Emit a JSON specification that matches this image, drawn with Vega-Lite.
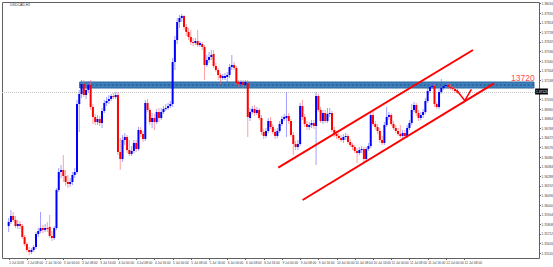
{
"$schema":"https://vega.github.io/schema/vega-lite/v6.json",
"width":537,"height":256,
"autosize":{"type":"none"},
"padding":{"left":2,"top":2,"right":14,"bottom":9},
"background":"#ffffff",
"config":{"view":{"stroke":"#606060","strokeWidth":1},"axis":{"labelFont":"Liberation Sans","labelFontSize":3.2,"labelColor":"#404040","tickColor":"#606060","tickSize":1.5,"domain":false,"grid":false}},
"resolve":{"axis":{"x":"independent","y":"independent"}},
"datasets":{
"candles":[
{"i":0,"o":1.3579,"h":1.3587,"l":1.3573,"c":1.3583},
{"i":1,"o":1.3583,"h":1.3595,"l":1.3581,"c":1.3589},
{"i":2,"o":1.3589,"h":1.3593,"l":1.3583,"c":1.3585},
{"i":3,"o":1.3585,"h":1.3589,"l":1.3577,"c":1.3579},
{"i":4,"o":1.3579,"h":1.3585,"l":1.3576,"c":1.3581},
{"i":5,"o":1.3581,"h":1.3584,"l":1.3576,"c":1.3579},
{"i":6,"o":1.3579,"h":1.3581,"l":1.3566,"c":1.3568},
{"i":7,"o":1.3568,"h":1.357,"l":1.3559,"c":1.3561},
{"i":8,"o":1.3561,"h":1.3563,"l":1.3553,"c":1.3555},
{"i":9,"o":1.3555,"h":1.3558,"l":1.355,"c":1.3553},
{"i":10,"o":1.3553,"h":1.3557,"l":1.3551,"c":1.3555},
{"i":11,"o":1.3555,"h":1.356,"l":1.3553,"c":1.3558},
{"i":12,"o":1.3558,"h":1.3573,"l":1.3556,"c":1.3571},
{"i":13,"o":1.3571,"h":1.3577,"l":1.3568,"c":1.3574},
{"i":14,"o":1.3574,"h":1.3593,"l":1.3572,"c":1.3577},
{"i":15,"o":1.3577,"h":1.358,"l":1.3572,"c":1.3575},
{"i":16,"o":1.3575,"h":1.3581,"l":1.3573,"c":1.3577},
{"i":17,"o":1.3577,"h":1.3583,"l":1.3573,"c":1.3576},
{"i":18,"o":1.3578,"h":1.359,"l":1.3567,"c":1.3569},
{"i":19,"o":1.3569,"h":1.3574,"l":1.3564,"c":1.3567},
{"i":20,"o":1.3567,"h":1.3579,"l":1.3565,"c":1.3577},
{"i":21,"o":1.3577,"h":1.3617,"l":1.3575,"c":1.3615},
{"i":22,"o":1.3615,"h":1.3637,"l":1.3613,"c":1.3633},
{"i":23,"o":1.3633,"h":1.364,"l":1.3627,"c":1.3635},
{"i":24,"o":1.3635,"h":1.365,"l":1.3623,"c":1.3629},
{"i":25,"o":1.3629,"h":1.3635,"l":1.3619,"c":1.3623},
{"i":26,"o":1.3623,"h":1.363,"l":1.3617,"c":1.3621},
{"i":27,"o":1.3621,"h":1.3627,"l":1.3618,"c":1.3623},
{"i":28,"o":1.3623,"h":1.3633,"l":1.362,"c":1.363},
{"i":29,"o":1.363,"h":1.3637,"l":1.3627,"c":1.3633},
{"i":30,"o":1.3633,"h":1.3705,"l":1.3631,"c":1.3701},
{"i":31,"o":1.3701,"h":1.3715,"l":1.3673,"c":1.3711},
{"i":32,"o":1.3711,"h":1.3725,"l":1.3707,"c":1.3721},
{"i":33,"o":1.3721,"h":1.3725,"l":1.3708,"c":1.371},
{"i":34,"o":1.371,"h":1.3719,"l":1.3706,"c":1.3715},
{"i":35,"o":1.3715,"h":1.3724,"l":1.3712,"c":1.372},
{"i":36,"o":1.372,"h":1.3725,"l":1.3695,"c":1.3698},
{"i":37,"o":1.3698,"h":1.3701,"l":1.3681,"c":1.3688},
{"i":38,"o":1.3688,"h":1.3691,"l":1.368,"c":1.3683},
{"i":39,"o":1.3683,"h":1.369,"l":1.368,"c":1.3686},
{"i":40,"o":1.3686,"h":1.3689,"l":1.3679,"c":1.3682},
{"i":41,"o":1.3682,"h":1.3697,"l":1.3677,"c":1.3694},
{"i":42,"o":1.3694,"h":1.3705,"l":1.3692,"c":1.3702},
{"i":43,"o":1.3702,"h":1.3708,"l":1.3699,"c":1.3704},
{"i":44,"o":1.3704,"h":1.371,"l":1.3701,"c":1.3706},
{"i":45,"o":1.3706,"h":1.3711,"l":1.3704,"c":1.3709},
{"i":46,"o":1.3709,"h":1.3712,"l":1.3706,"c":1.3708},
{"i":47,"o":1.3708,"h":1.3713,"l":1.3706,"c":1.371},
{"i":48,"o":1.371,"h":1.3713,"l":1.365,"c":1.3653},
{"i":49,"o":1.3653,"h":1.3667,"l":1.3635,"c":1.3646},
{"i":50,"o":1.3646,"h":1.367,"l":1.3643,"c":1.3665},
{"i":51,"o":1.3665,"h":1.3672,"l":1.366,"c":1.3668},
{"i":52,"o":1.3668,"h":1.367,"l":1.3652,"c":1.3655},
{"i":53,"o":1.3655,"h":1.3665,"l":1.3649,"c":1.3651},
{"i":54,"o":1.3651,"h":1.3659,"l":1.3649,"c":1.3654},
{"i":55,"o":1.3654,"h":1.3665,"l":1.3652,"c":1.3662},
{"i":56,"o":1.3662,"h":1.3665,"l":1.3653,"c":1.3656},
{"i":57,"o":1.3656,"h":1.3678,"l":1.3654,"c":1.3675},
{"i":58,"o":1.3675,"h":1.3678,"l":1.3668,"c":1.3671},
{"i":59,"o":1.3671,"h":1.3674,"l":1.3663,"c":1.3666},
{"i":60,"o":1.3666,"h":1.3705,"l":1.3664,"c":1.3702},
{"i":61,"o":1.3702,"h":1.3706,"l":1.3693,"c":1.3695},
{"i":62,"o":1.3695,"h":1.3697,"l":1.368,"c":1.3683},
{"i":63,"o":1.3683,"h":1.3692,"l":1.3677,"c":1.3687},
{"i":64,"o":1.3687,"h":1.3691,"l":1.3675,"c":1.3683},
{"i":65,"o":1.3683,"h":1.3696,"l":1.3681,"c":1.3693},
{"i":66,"o":1.3693,"h":1.3697,"l":1.3683,"c":1.3687},
{"i":67,"o":1.3687,"h":1.3697,"l":1.3685,"c":1.3693},
{"i":68,"o":1.3693,"h":1.3699,"l":1.3691,"c":1.3696},
{"i":69,"o":1.3696,"h":1.3701,"l":1.3694,"c":1.3697},
{"i":70,"o":1.3697,"h":1.3702,"l":1.3695,"c":1.3699},
{"i":71,"o":1.3699,"h":1.3704,"l":1.3697,"c":1.3701},
{"i":72,"o":1.3701,"h":1.3747,"l":1.3698,"c":1.3743},
{"i":73,"o":1.3743,"h":1.3769,"l":1.3735,"c":1.3765},
{"i":74,"o":1.3765,"h":1.3787,"l":1.3761,"c":1.3783},
{"i":75,"o":1.3783,"h":1.379,"l":1.3777,"c":1.3787},
{"i":76,"o":1.3787,"h":1.3791,"l":1.3783,"c":1.3789},
{"i":77,"o":1.3789,"h":1.379,"l":1.3775,"c":1.3778},
{"i":78,"o":1.3778,"h":1.3781,"l":1.3769,"c":1.3773},
{"i":79,"o":1.3773,"h":1.3777,"l":1.3765,"c":1.3768},
{"i":80,"o":1.3768,"h":1.3775,"l":1.376,"c":1.3763},
{"i":81,"o":1.3763,"h":1.3767,"l":1.3759,"c":1.3762},
{"i":82,"o":1.3762,"h":1.3767,"l":1.376,"c":1.3764},
{"i":83,"o":1.3764,"h":1.3775,"l":1.3758,"c":1.376},
{"i":84,"o":1.376,"h":1.3764,"l":1.3758,"c":1.3762},
{"i":85,"o":1.3761,"h":1.3763,"l":1.3755,"c":1.3758},
{"i":86,"o":1.3758,"h":1.376,"l":1.3725,"c":1.374},
{"i":87,"o":1.374,"h":1.375,"l":1.3738,"c":1.3745},
{"i":88,"o":1.3745,"h":1.3753,"l":1.3742,"c":1.3748},
{"i":89,"o":1.3748,"h":1.3755,"l":1.3745,"c":1.375},
{"i":90,"o":1.3751,"h":1.3755,"l":1.3737,"c":1.3739},
{"i":91,"o":1.3739,"h":1.3742,"l":1.3733,"c":1.3735},
{"i":92,"o":1.3735,"h":1.3737,"l":1.3725,"c":1.373},
{"i":93,"o":1.373,"h":1.3732,"l":1.372,"c":1.3727},
{"i":94,"o":1.3727,"h":1.3731,"l":1.3725,"c":1.3729},
{"i":95,"o":1.3727,"h":1.3732,"l":1.3725,"c":1.3729},
{"i":96,"o":1.3728,"h":1.3733,"l":1.3718,"c":1.373},
{"i":97,"o":1.373,"h":1.3741,"l":1.3727,"c":1.3738},
{"i":98,"o":1.3738,"h":1.375,"l":1.3735,"c":1.374},
{"i":99,"o":1.374,"h":1.3743,"l":1.3735,"c":1.3737},
{"i":100,"o":1.3737,"h":1.3739,"l":1.372,"c":1.3722},
{"i":101,"o":1.3723,"h":1.3725,"l":1.3718,"c":1.3721},
{"i":102,"o":1.3721,"h":1.3725,"l":1.3719,"c":1.3723},
{"i":103,"o":1.3723,"h":1.3725,"l":1.3717,"c":1.372},
{"i":104,"o":1.372,"h":1.3725,"l":1.3718,"c":1.3723},
{"i":105,"o":1.3722,"h":1.3725,"l":1.3668,"c":1.3688},
{"i":106,"o":1.3687,"h":1.3697,"l":1.3684,"c":1.3693},
{"i":107,"o":1.3693,"h":1.3699,"l":1.3691,"c":1.3696},
{"i":108,"o":1.3696,"h":1.37,"l":1.3689,"c":1.3692},
{"i":109,"o":1.3692,"h":1.3698,"l":1.369,"c":1.3695},
{"i":110,"o":1.3695,"h":1.3697,"l":1.3685,"c":1.3687},
{"i":111,"o":1.3687,"h":1.369,"l":1.367,"c":1.3673},
{"i":112,"o":1.3673,"h":1.3676,"l":1.3666,"c":1.3669},
{"i":113,"o":1.3669,"h":1.3677,"l":1.3667,"c":1.3674},
{"i":114,"o":1.3674,"h":1.3687,"l":1.3672,"c":1.3684},
{"i":115,"o":1.3684,"h":1.3688,"l":1.3676,"c":1.3678},
{"i":116,"o":1.3678,"h":1.3681,"l":1.3671,"c":1.3673},
{"i":117,"o":1.3673,"h":1.3676,"l":1.3666,"c":1.3669},
{"i":118,"o":1.3669,"h":1.3677,"l":1.3667,"c":1.3674},
{"i":119,"o":1.3674,"h":1.3684,"l":1.3672,"c":1.3681},
{"i":120,"o":1.3681,"h":1.3689,"l":1.3679,"c":1.3686},
{"i":121,"o":1.3686,"h":1.3691,"l":1.3684,"c":1.3688},
{"i":122,"o":1.3687,"h":1.3713,"l":1.3668,"c":1.3689},
{"i":123,"o":1.3689,"h":1.3692,"l":1.3681,"c":1.3684},
{"i":124,"o":1.3684,"h":1.3686,"l":1.3668,"c":1.367},
{"i":125,"o":1.367,"h":1.3673,"l":1.365,"c":1.3661},
{"i":126,"o":1.3661,"h":1.3664,"l":1.3655,"c":1.3658},
{"i":127,"o":1.3658,"h":1.3665,"l":1.3655,"c":1.3661},
{"i":128,"o":1.3661,"h":1.3702,"l":1.3659,"c":1.3699},
{"i":129,"o":1.3699,"h":1.3705,"l":1.3685,"c":1.3688},
{"i":130,"o":1.3688,"h":1.3691,"l":1.3678,"c":1.3681},
{"i":131,"o":1.3681,"h":1.3684,"l":1.3675,"c":1.3678},
{"i":132,"o":1.3678,"h":1.3683,"l":1.3675,"c":1.368},
{"i":133,"o":1.368,"h":1.3685,"l":1.3677,"c":1.3682},
{"i":134,"o":1.3682,"h":1.3685,"l":1.3676,"c":1.3679},
{"i":135,"o":1.3679,"h":1.3713,"l":1.364,"c":1.3709},
{"i":136,"o":1.3709,"h":1.3711,"l":1.3693,"c":1.3695},
{"i":137,"o":1.3695,"h":1.3698,"l":1.3682,"c":1.3684},
{"i":138,"o":1.3684,"h":1.3695,"l":1.3681,"c":1.3692},
{"i":139,"o":1.3692,"h":1.3695,"l":1.3682,"c":1.3684},
{"i":140,"o":1.3684,"h":1.3697,"l":1.3682,"c":1.3691},
{"i":141,"o":1.3691,"h":1.3697,"l":1.3688,"c":1.3692},
{"i":142,"o":1.3692,"h":1.3694,"l":1.3673,"c":1.3675},
{"i":143,"o":1.3675,"h":1.3678,"l":1.3668,"c":1.3671},
{"i":144,"o":1.3671,"h":1.3674,"l":1.3666,"c":1.3669},
{"i":145,"o":1.3669,"h":1.3672,"l":1.3665,"c":1.3667},
{"i":146,"o":1.3667,"h":1.367,"l":1.3663,"c":1.3665},
{"i":147,"o":1.3665,"h":1.3671,"l":1.3662,"c":1.3668},
{"i":148,"o":1.3668,"h":1.3672,"l":1.3665,"c":1.3669},
{"i":149,"o":1.3669,"h":1.3671,"l":1.3661,"c":1.3663},
{"i":150,"o":1.3663,"h":1.3666,"l":1.3658,"c":1.366},
{"i":151,"o":1.366,"h":1.3662,"l":1.3655,"c":1.3658},
{"i":152,"o":1.3658,"h":1.366,"l":1.3652,"c":1.3654},
{"i":153,"o":1.3654,"h":1.3657,"l":1.3642,"c":1.3652},
{"i":154,"o":1.3652,"h":1.3658,"l":1.365,"c":1.3655},
{"i":155,"o":1.3655,"h":1.3659,"l":1.3652,"c":1.3656},
{"i":156,"o":1.3656,"h":1.3658,"l":1.3643,"c":1.3646},
{"i":157,"o":1.3646,"h":1.3658,"l":1.3644,"c":1.3656},
{"i":158,"o":1.3656,"h":1.3662,"l":1.3654,"c":1.3659},
{"i":159,"o":1.3659,"h":1.3693,"l":1.3657,"c":1.369},
{"i":160,"o":1.369,"h":1.3694,"l":1.3679,"c":1.3681},
{"i":161,"o":1.3681,"h":1.3684,"l":1.3675,"c":1.3678},
{"i":162,"o":1.3678,"h":1.3681,"l":1.3671,"c":1.3674},
{"i":163,"o":1.3674,"h":1.3677,"l":1.3662,"c":1.3665},
{"i":164,"o":1.3665,"h":1.3669,"l":1.366,"c":1.3662},
{"i":165,"o":1.3662,"h":1.3683,"l":1.366,"c":1.368},
{"i":166,"o":1.368,"h":1.3698,"l":1.3678,"c":1.3688},
{"i":167,"o":1.3688,"h":1.3693,"l":1.3685,"c":1.369},
{"i":168,"o":1.369,"h":1.3692,"l":1.3679,"c":1.3681},
{"i":169,"o":1.3681,"h":1.3684,"l":1.3675,"c":1.3677},
{"i":170,"o":1.3677,"h":1.368,"l":1.3672,"c":1.3674},
{"i":171,"o":1.3674,"h":1.3677,"l":1.3669,"c":1.3671},
{"i":172,"o":1.3671,"h":1.368,"l":1.3667,"c":1.3669},
{"i":173,"o":1.3669,"h":1.3675,"l":1.3667,"c":1.3672},
{"i":174,"o":1.3672,"h":1.3675,"l":1.3667,"c":1.3669},
{"i":175,"o":1.3669,"h":1.368,"l":1.3667,"c":1.3677},
{"i":176,"o":1.3677,"h":1.3685,"l":1.3675,"c":1.3682},
{"i":177,"o":1.3682,"h":1.3701,"l":1.368,"c":1.3695},
{"i":178,"o":1.3695,"h":1.3703,"l":1.3693,"c":1.37},
{"i":179,"o":1.37,"h":1.3702,"l":1.3689,"c":1.3692},
{"i":180,"o":1.3692,"h":1.3695,"l":1.3684,"c":1.3687},
{"i":181,"o":1.3687,"h":1.3693,"l":1.3685,"c":1.369},
{"i":182,"o":1.369,"h":1.3696,"l":1.3687,"c":1.3693},
{"i":183,"o":1.3693,"h":1.3707,"l":1.3691,"c":1.3704},
{"i":184,"o":1.3704,"h":1.3717,"l":1.3702,"c":1.3714},
{"i":185,"o":1.3714,"h":1.3721,"l":1.3712,"c":1.3718},
{"i":186,"o":1.3718,"h":1.3723,"l":1.3716,"c":1.3719},
{"i":187,"o":1.3719,"h":1.3721,"l":1.3698,"c":1.3701},
{"i":188,"o":1.3701,"h":1.3703,"l":1.3696,"c":1.3698},
{"i":189,"o":1.3698,"h":1.3716,"l":1.3696,"c":1.3713},
{"i":190,"o":1.3713,"h":1.3726,"l":1.3711,"c":1.3717},
{"i":191,"o":1.3717,"h":1.3722,"l":1.3715,"c":1.3719},
{"i":192,"o":1.3719,"h":1.3723,"l":1.3717,"c":1.372},
{"i":193,"o":1.372,"h":1.3722,"l":1.3716,"c":1.3718},
{"i":194,"o":1.3718,"h":1.3721,"l":1.3715,"c":1.3717},
{"i":195,"o":1.3717,"h":1.3719,"l":1.3714,"c":1.3716},
{"i":196,"o":1.3716,"h":1.3718,"l":1.3712,"c":1.3714},
{"i":197,"o":1.3714,"h":1.3716,"l":1.3711,"c":1.37125}
]},
"layer":[
{"data":{"name":"candles"},
 "mark":{"type":"rule","strokeWidth":1,"opacity":0},
 "encoding":{
  "x":{"field":"i","type":"quantitative","title":null,"scale":{"domain":[-0.73,230.7],"zero":false,"nice":false},
   "axis":{"orient":"bottom","title":null,"values":[0,8,16,24,32,40,48,56,64,72,80,88,96,104,112,120,128,136,144,152,160,168,176,184,192,200],"labelAlign":"left","labelPadding":0.5,"labelBaseline":"top","labelOverlap":false,"labelFlush":false,
    "labelExpr":"['2 Jul 2018','2 Jul 08:00','2 Jul 16:00','3 Jul 00:00','3 Jul 08:00','3 Jul 16:00','4 Jul 00:00','4 Jul 08:00','4 Jul 16:00','5 Jul 00:00','5 Jul 08:00','5 Jul 16:00','6 Jul 00:00','6 Jul 08:00','6 Jul 16:00','9 Jul 00:00','9 Jul 08:00','9 Jul 16:00','10 Jul 00:00','10 Jul 08:00','10 Jul 16:00','11 Jul 00:00','11 Jul 08:00','11 Jul 16:00','12 Jul 00:00','12 Jul 08:00'][round(datum.value/8)]"}},
  "y":{"field":"h","type":"quantitative","title":null,"scale":{"domain":[1.3547,1.3803],"zero":false,"nice":false},
   "axis":{"orient":"right","title":null,"values":[1.38016,1.3792,1.37824,1.37728,1.37632,1.37536,1.3744,1.37344,1.37248,1.37056,1.3696,1.36864,1.36768,1.36672,1.36576,1.3648,1.36384,1.36288,1.36192,1.36096,1.36,1.35904,1.35808,1.35712,1.35616,1.3552],"format":".5f","labelPadding":0.5,"labelOverlap":false,"labelFlush":false}},
  "y2":{"field":"l"}}},
{"data":{"values":[{"level":1.37125}]},
 "mark":{"type":"rule","color":"#c4c4c4","strokeDash":[1,1],"strokeWidth":1},
 "encoding":{"y":{"field":"level","type":"quantitative","axis":null}}},
{"data":{"values":[{"start":31.2,"end":230.7,"top":1.3723,"bottom":1.3717}]},
 "mark":{"type":"rect","fill":"#3f81bf","stroke":"#2b659c","strokeWidth":1},
 "encoding":{"x":{"field":"start","type":"quantitative","axis":null},"x2":{"field":"end"},
  "y":{"field":"top","type":"quantitative","axis":null},"y2":{"field":"bottom"}}},
{"data":{"values":[{"start":31.2,"end":230.7,"level":1.372}]},
 "mark":{"type":"rule","color":"#1d4a7a","strokeDash":[2,2],"strokeWidth":1},
 "encoding":{"x":{"field":"start","type":"quantitative","axis":null},"x2":{"field":"end"},
  "y":{"field":"level","type":"quantitative","axis":null}}},
{"data":{"name":"candles"},
 "mark":{"type":"rule","strokeWidth":1,"opacity":0.6},
 "encoding":{
  "x":{"field":"i","type":"quantitative","axis":null},
  "y":{"field":"h","type":"quantitative","axis":null},
  "y2":{"field":"l"},
  "color":{"condition":{"test":"datum.c < datum.o","value":"#ff6060"},"value":"#6060ff"}}},
{"data":{"name":"candles"},
 "mark":{"type":"bar","width":2},
 "encoding":{
  "x":{"field":"i","type":"quantitative","axis":null},
  "y":{"field":"o","type":"quantitative","axis":null},
  "y2":{"field":"c"},
  "color":{"condition":{"test":"datum.c < datum.o","value":"#ff0000"},"value":"#0000ff"}}},
{"data":{"values":[{"line":"upper","x":118.4,"p":1.36373},{"line":"upper","x":203.9,"p":1.3755},{"line":"lower","x":129.1,"p":1.3605},{"line":"lower","x":213.2,"p":1.37217}]},
 "mark":{"type":"line","color":"#ff0000","strokeWidth":2},
 "encoding":{"x":{"field":"x","type":"quantitative","axis":null},
  "y":{"field":"p","type":"quantitative","axis":null},
  "detail":{"field":"line"}}},
{"data":{"values":[{"x":196.7,"p":1.3715},{"x":200.3,"p":1.37043},{"x":203.2,"p":1.37157}]},
 "mark":{"type":"line","color":"#ff0000","strokeWidth":1.5},
 "encoding":{"x":{"field":"x","type":"quantitative","axis":null},
  "y":{"field":"p","type":"quantitative","axis":null}}},
{"data":{"values":[{"label":"13720","x":225.8,"p":1.37275}]},
 "mark":{"type":"text","color":"#ff4d4d","fontSize":8.5,"font":"Liberation Sans","align":"center","baseline":"middle"},
 "encoding":{"x":{"field":"x","type":"quantitative","axis":null},
  "y":{"field":"p","type":"quantitative","axis":null},"text":{"field":"label"}}},
{"data":{"values":[{"start":231.2,"end":236.8,"top":1.37165,"bottom":1.37105}]},
 "mark":{"type":"rect","fill":"#000000"},
 "encoding":{"x":{"field":"start","type":"quantitative","axis":null},"x2":{"field":"end"},
  "y":{"field":"top","type":"quantitative","axis":null},"y2":{"field":"bottom"}}},
{"data":{"values":[{"label":"1.37125","x":231.6,"p":1.37135}]},
 "mark":{"type":"text","color":"#ffffff","fontSize":3.2,"font":"Liberation Sans","align":"left","baseline":"middle"},
 "encoding":{"x":{"field":"x","type":"quantitative","axis":null},
  "y":{"field":"p","type":"quantitative","axis":null},"text":{"field":"label"}}},
{"data":{"values":[{"label":"USDCAD,H1","x":0.6,"p":1.38005}]},
 "mark":{"type":"text","color":"#333333","fontSize":3.5,"font":"Liberation Sans","align":"left","baseline":"middle"},
 "encoding":{"x":{"field":"x","type":"quantitative","axis":null},
  "y":{"field":"p","type":"quantitative","axis":null},"text":{"field":"label"}}}
]
}
